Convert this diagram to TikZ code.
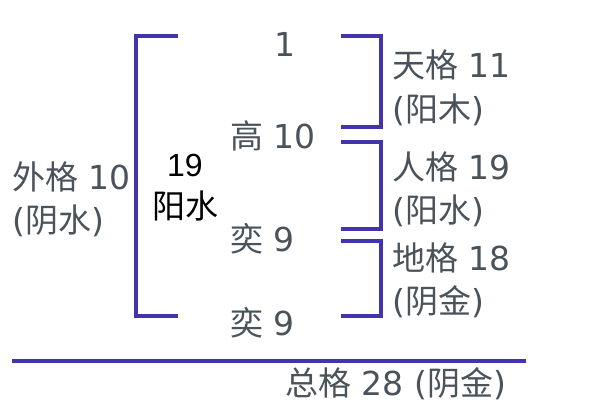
\documentclass[tikz,border=0pt]{standalone}
\usepackage{fontspec}
\setmainfont{DejaVu Sans}
\newfontfamily\cjk{Noto Sans CJK SC}
\newfontfamily\arialf{Liberation Sans}
\definecolor{linec}{RGB}{66,52,172}
\definecolor{textc}{RGB}{74,82,90}
\tikzset{
  brk/.style={draw=linec, line width=3.2pt},
  lbl/.style={text=textc, inner sep=0pt, anchor=west, font=\fontsize{33}{35}\selectfont},
  blk/.style={text=black, inner sep=0pt, anchor=center},
}
\newcommand{\cj}[1]{{\cjk #1}}
\begin{document}
\begin{tikzpicture}[x=1pt,y=-1pt]
\useasboundingbox[fill=white] (0,0) rectangle (600,400);
% left bracket
\coordinate (L1) at (178,36);
\coordinate (L2) at (136,36);
\coordinate (L3) at (136,316);
\coordinate (L4) at (178,316);
\draw[brk] (L1) -- (L2) -- (L3) -- (L4);
% right brackets
\coordinate (A1) at (341,36);
\coordinate (A2) at (381,36);
\coordinate (A3) at (381,127);
\coordinate (A4) at (341,127);
\draw[brk] (A1) -- (A2) -- (A3) -- (A4);
\coordinate (B1) at (341,142);
\coordinate (B2) at (381,142);
\coordinate (B3) at (381,229);
\coordinate (B4) at (341,229);
\draw[brk] (B1) -- (B2) -- (B3) -- (B4);
\coordinate (C1) at (341,241);
\coordinate (C2) at (381,241);
\coordinate (C3) at (381,316);
\coordinate (C4) at (341,316);
\draw[brk] (C1) -- (C2) -- (C3) -- (C4);
% bottom line
\coordinate (H1) at (12,361);
\coordinate (H2) at (526,361);
\draw[brk] (H1) -- (H2);
% middle column
\node[lbl, anchor=center] (n1) at (285,44) {1};
\node[lbl] (n2) at (230,136) {\cj{高} 10};
\node[lbl] (n3) at (230,239) {\cj{奕} 9};
\node[lbl] (n4) at (230,323) {\cj{奕} 9};
% centre
\node[blk, font=\arialf\fontsize{32}{34}\selectfont] (c1) at (185,165) {19};
\node[blk, font=\cjk\fontsize{33}{35}\selectfont] (c2) at (185,206) {阳水};
% left
\node[lbl] (w1) at (12,177) {\cj{外格} 10};
\node[lbl] (w2) at (12,221) {(\cj{阴水})};
% right
\node[lbl] (r1) at (392,65) {\cj{天格} 11};
\node[lbl] (r2) at (392,110) {(\cj{阳木})};
\node[lbl] (r3) at (392,167) {\cj{人格} 19};
\node[lbl] (r4) at (392,211) {(\cj{阳水})};
\node[lbl] (r5) at (392,258) {\cj{地格} 18};
\node[lbl] (r6) at (392,302) {(\cj{阴金})};
% bottom
\node[lbl] (t1) at (285,384) {\cj{总格} 28 (\cj{阴金})};
\end{tikzpicture}
\end{document}
